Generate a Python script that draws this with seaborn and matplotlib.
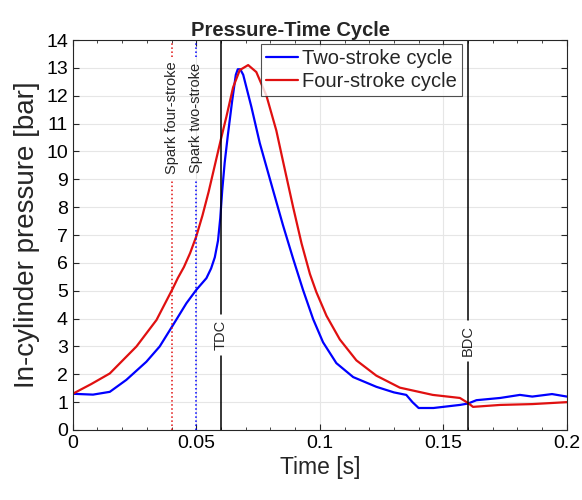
import numpy as np
import pandas as pd
import matplotlib
matplotlib.use("Agg")
import matplotlib.pyplot as plt
import seaborn as sns
from matplotlib.ticker import MultipleLocator

# Two-stroke cycle (time [s], pressure [bar])
t_two = [0.0, 0.0082, 0.015, 0.0217, 0.0298, 0.0352, 0.0406, 0.046, 0.05, 0.0541,
         0.056, 0.0575, 0.0588, 0.0597, 0.0605, 0.0615, 0.0628, 0.0645, 0.066,
         0.0668, 0.0678, 0.069, 0.0723, 0.0757, 0.0811, 0.0851, 0.0892, 0.0932,
         0.0973, 0.1013, 0.1067, 0.1135, 0.1229, 0.130, 0.135, 0.1375, 0.140,
         0.146, 0.1567, 0.160, 0.1634, 0.173, 0.181, 0.186, 0.194, 0.2]
p_two = [1.3, 1.27, 1.37, 1.8, 2.45, 3.0, 3.77, 4.55, 5.03, 5.45,
         5.8, 6.2, 6.8, 7.6, 8.6, 9.6, 10.6, 11.8, 12.75,
         12.95, 12.95, 12.75, 11.6, 10.3, 8.6, 7.35, 6.15, 5.03,
         3.98, 3.15, 2.4, 1.9, 1.55, 1.35, 1.26, 1.0, 0.79,
         0.79, 0.9, 0.95, 1.07, 1.15, 1.26, 1.2, 1.29, 1.2]

# Four-stroke cycle
t_four = [0.0, 0.0075, 0.015, 0.0258, 0.0339, 0.0406, 0.0425, 0.045, 0.0475, 0.05,
          0.0525, 0.055, 0.0575, 0.06, 0.0622, 0.0649, 0.0676, 0.071, 0.0743,
          0.0784, 0.0824, 0.0851, 0.0892, 0.0926, 0.096, 0.0986, 0.1027, 0.1081,
          0.1148, 0.1229, 0.1324, 0.1457, 0.1567, 0.160, 0.162, 0.173, 0.186, 0.2]
p_four = [1.3, 1.65, 2.03, 3.0, 3.95, 5.1, 5.45, 5.85, 6.35, 6.95,
          7.7, 8.55, 9.5, 10.45, 11.25, 12.3, 12.92, 13.1, 12.85,
          12.0, 10.75, 9.65, 8.0, 6.7, 5.6, 4.95, 4.1, 3.25,
          2.5, 1.95, 1.52, 1.26, 1.15, 0.97, 0.83, 0.9, 0.93, 1.0]

# Event markers
spark_four = 0.04
spark_two = 0.05
tdc = 0.06
bdc = 0.16

sns.set_style("ticks")
plt.rcParams['font.family'] = ['Liberation Sans', 'DejaVu Sans']

fig = plt.figure(figsize=(5.82, 5.0), dpi=100)
ax = fig.add_axes([0.125, 0.14, 0.849, 0.78])

df = pd.concat([
    pd.DataFrame({"t": t_two, "p": p_two, "cycle": "Two-stroke cycle"}),
    pd.DataFrame({"t": t_four, "p": p_four, "cycle": "Four-stroke cycle"}),
])
sns.lineplot(data=df, x="t", y="p", hue="cycle", sort=False, estimator=None,
             palette={"Two-stroke cycle": "#0000FF", "Four-stroke cycle": "#E01010"},
             lw=1.6, ax=ax)

ax.set_xlim(0, 0.2)
ax.set_ylim(0, 14)
ax.xaxis.set_minor_locator(MultipleLocator(0.01))
ax.yaxis.set_major_locator(MultipleLocator(1))
ax.set_xticks([0, 0.05, 0.1, 0.15, 0.2])
ax.set_xticklabels(["0", "0.05", "0.1", "0.15", "0.2"])
ax.grid(True, which="major", color="#e6e6e6", lw=0.8)
ax.set_axisbelow(True)
for s in ax.spines.values():
    s.set_visible(True)
    s.set_color("#262626")
    s.set_linewidth(0.8)
ax.tick_params(axis="both", which="both", direction="in", top=True, right=True,
               labelsize=14, colors="#262626", labelcolor="black")
ax.tick_params(which="major", length=4)
ax.tick_params(which="minor", length=2)

# vertical lines with labels
def vline(x, color, ls, label, ymid, gap):
    ax.plot([x, x], [0, ymid - gap], color=color, ls=ls, lw=1.1)
    ax.plot([x, x], [ymid + gap, 14], color=color, ls=ls, lw=1.1)
    ax.text(x, ymid, label, rotation=90, ha="center", va="center", fontsize=10.5)

vline(spark_four, "#E01010", ":", "Spark four-stroke", 11.2, 2.2)
vline(spark_two, "#0000FF", ":", "Spark two-stroke", 11.2, 2.2)
vline(tdc, "black", "-", "TDC", 3.4, 0.75)
vline(bdc, "black", "-", "BDC", 3.2, 0.75)

ax.set_xlabel("Time [s]", fontsize=16.5, labelpad=3)
ax.set_ylabel("In-cylinder pressure [bar]", fontsize=20, labelpad=4)
ax.set_title("Pressure-Time Cycle", fontsize=14.5, fontweight="bold", pad=3, x=0.441)

leg = ax.legend(loc="upper right", fontsize=14.5, frameon=True, fancybox=False,
                borderpad=0.25, handlelength=1.6, handletextpad=0.2, labelspacing=0.2,
                borderaxespad=0.2, bbox_to_anchor=(0.796, 1.0))
leg.get_frame().set_edgecolor("#262626")
leg.get_frame().set_linewidth(0.8)

fig.savefig("out.png", dpi=100)
